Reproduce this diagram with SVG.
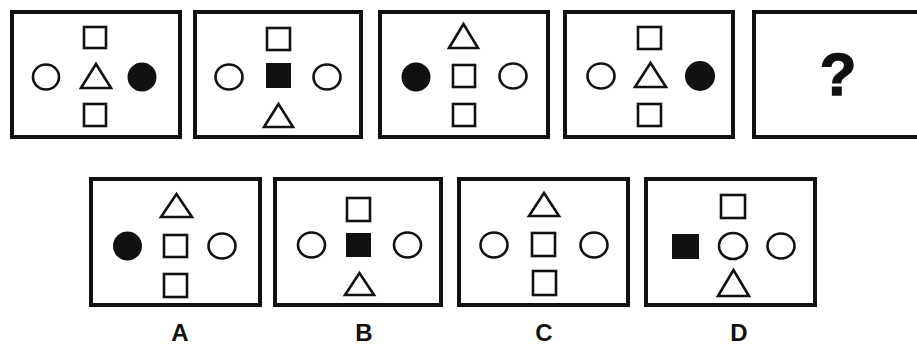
<svg xmlns="http://www.w3.org/2000/svg" width="917" height="347" viewBox="0 0 917 347">
<style>
.panel{fill:#fff;stroke:#111;stroke-width:4}
.o{fill:#fff;stroke:#111;stroke-width:2.6}
.f{fill:#111;stroke:#111;stroke-width:2}
.lbl{font-family:"Liberation Sans",Arial,sans-serif;font-weight:bold;fill:#111;text-anchor:middle}
</style>
<rect width="917" height="347" fill="#fff"/>
<g id="panel1">
<rect class="panel" x="12" y="12" width="168" height="125"/>
<rect class="o" x="84" y="27" width="22" height="21"/>
<ellipse class="o" cx="46" cy="77" rx="13" ry="12.5"/>
<polygon class="o" points="96,64 81,88 111,88"/>
<circle class="f" cx="142" cy="77" r="13.5"/>
<rect class="o" x="84" y="104" width="22" height="22"/>
</g>
<g id="panel2">
<rect class="panel" x="195" y="12" width="166" height="125"/>
<rect class="o" x="267" y="28" width="23" height="22"/>
<ellipse class="o" cx="229" cy="77" rx="13.5" ry="12.5"/>
<rect class="f" x="267" y="64" width="23" height="23"/>
<ellipse class="o" cx="327" cy="77" rx="13.5" ry="12.5"/>
<polygon class="o" points="278.5,104 264,127 293,127"/>
</g>
<g id="panel3">
<rect class="panel" x="380" y="12" width="168" height="125"/>
<polygon class="o" points="463.5,24 449,48 478,48"/>
<circle class="f" cx="416" cy="77" r="13.5"/>
<rect class="o" x="453" y="65" width="22" height="22"/>
<ellipse class="o" cx="513" cy="76" rx="13.5" ry="12.5"/>
<rect class="o" x="453" y="104" width="22" height="22"/>
</g>
<g id="panel4">
<rect class="panel" x="565" y="12" width="168" height="125"/>
<rect class="o" x="638" y="27" width="23" height="22"/>
<ellipse class="o" cx="601" cy="76" rx="13.5" ry="12.5"/>
<polygon class="o" points="650.5,63 635,87 666,87"/>
<circle class="f" cx="700" cy="76" r="14"/>
<rect class="o" x="638" y="104" width="23" height="22"/>
</g>
<g id="panel5">
<rect class="panel" x="754" y="12" width="168" height="125"/>
<text class="lbl" x="838" y="95" font-size="60" stroke="#111" stroke-width="1.5">?</text>
</g>
<g id="optionA">
<rect class="panel" x="91" y="179" width="169" height="126"/>
<polygon class="o" points="176.5,194 161,217 192,217"/>
<circle class="f" cx="127.5" cy="246" r="13.5"/>
<rect class="o" x="164" y="235" width="23" height="22"/>
<ellipse class="o" cx="222" cy="246" rx="13.5" ry="12.5"/>
<rect class="o" x="164" y="274" width="23" height="23"/>
<text class="lbl" x="180" y="341" font-size="24">A</text>
</g>
<g id="optionB">
<rect class="panel" x="275" y="179" width="166" height="126"/>
<rect class="o" x="347" y="198" width="23" height="23"/>
<ellipse class="o" cx="311.5" cy="245" rx="13.5" ry="12.5"/>
<rect class="f" x="347" y="234" width="23" height="22"/>
<ellipse class="o" cx="407.5" cy="245" rx="13.5" ry="12.5"/>
<polygon class="o" points="359.5,273 345,295 374,295"/>
<text class="lbl" x="364" y="341" font-size="24">B</text>
</g>
<g id="optionC">
<rect class="panel" x="459" y="179" width="169" height="126"/>
<polygon class="o" points="544,193 529,216 559,216"/>
<ellipse class="o" cx="494" cy="245" rx="13.5" ry="12.5"/>
<rect class="o" x="532" y="233" width="23" height="23"/>
<ellipse class="o" cx="594" cy="245" rx="13.5" ry="12.5"/>
<rect class="o" x="533" y="271" width="23" height="24"/>
<text class="lbl" x="544" y="341" font-size="24">C</text>
</g>
<g id="optionD">
<rect class="panel" x="646" y="179" width="169" height="126"/>
<rect class="o" x="721" y="195" width="24" height="23"/>
<rect class="f" x="673" y="235" width="25" height="23"/>
<ellipse class="o" cx="733" cy="246" rx="14" ry="13"/>
<ellipse class="o" cx="781" cy="246" rx="13.5" ry="12.5"/>
<polygon class="o" points="733.5,270 718,296 749,296"/>
<text class="lbl" x="739" y="341" font-size="24">D</text>
</g>
<g id="connectors"></g>
</svg>
